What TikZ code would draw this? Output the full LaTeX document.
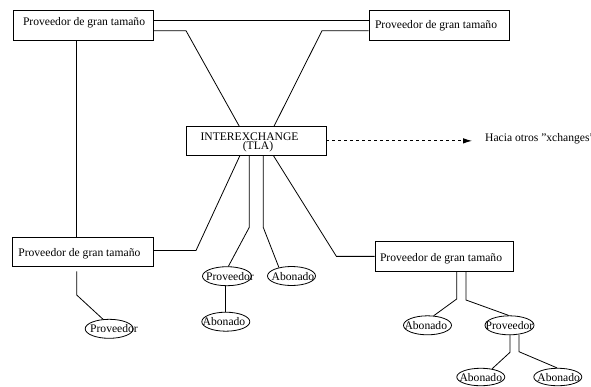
\documentclass[tikz,border=0pt]{standalone}
\usepackage{fontspec}
\setmainfont{Liberation Serif}
\usetikzlibrary{calc,shapes.geometric,arrows.meta}

% text of an oval, moved sideways by half of #1
\newcommand\ovaltext[2]{\makebox[0pt]{\hspace*{#1}#2}}
% text of a provider box: box width, left padding, text
\newcommand\boxtext[3]{\makebox[#1][l]{\hspace*{#2}#3}}

\tikzset{
  link/.style={line width=0.8pt},
  pbox/.style={draw, line width=0.8pt, inner sep=0pt, minimum height=29.3pt,
               text depth=0pt, text height=#1},
  oval/.style={ellipse, draw, line width=0.8pt, inner sep=0pt,
               minimum width=48pt, minimum height=19pt,
               text height=8pt, text depth=0pt},
  lbl/.style={inner sep=0pt, anchor=base},
}

\begin{document}
\begin{tikzpicture}[x=1pt, y=-1pt, font=\fontsize{11.6}{13}\selectfont]
\useasboundingbox (0,0) rectangle (591,386);

% large providers and the interexchange
\node[pbox=0.7pt] (tl) at (83.15,25.35) {\boxtext{140.3pt}{10pt}{Proveedor de gran tamaño}};
\node[pbox=6pt]   (tr) at (439.15,25.35) {\boxtext{140.3pt}{6pt}{Proveedor de gran tamaño}};
\node[pbox=9pt, minimum height=29pt] (bl) at (83,252.2) {\boxtext{140.6pt}{5.6pt}{Proveedor de gran tamaño}};
\node[pbox=9.4pt] (br) at (444.15,256.35) {\boxtext{138.3pt}{5pt}{Proveedor de gran tamaño}};

\node[draw, line width=0.8pt, inner sep=0pt, minimum width=140pt, minimum height=28.3pt] (ix) at (256,140.85) {};
\node[lbl] (ixa) at (249.5,140.7) {INTEREXCHANGE};
\node[lbl] (ixb) at (258,149.5) {(TLA)};

% small providers and subscribers
\node[oval] (p1) at (109.2,328.8) {\ovaltext{9.6pt}{Proveedor}};
\node[oval, minimum width=49pt] (p2) at (227,276.2) {\ovaltext{6pt}{Proveedor}};
\node[oval] (a1) at (225.8,321.7) {\ovaltext{-3.6pt}{Abonado}};
\node[oval] (a2) at (291.5,276) {\ovaltext{3pt}{Abonado}};
\node[oval] (a3) at (427.5,325.3) {\ovaltext{-3.4pt}{Abonado}};
\node[oval, minimum width=49pt] (p3) at (509.5,325.3) {\ovaltext{0pt}{Proveedor}};
\node[oval, minimum height=17.5pt] (a4) at (480.8,377) {\ovaltext{0pt}{Abonado}};
\node[oval, minimum height=17.5pt] (a5) at (557.8,377) {\ovaltext{1.8pt}{Abonado}};

% other exchanges
\coordinate (xend) at (472,140.85);
\node[lbl, anchor=base west] (hacia) at (485,141) {Hacia otros "xchanges"};

% links between the large providers
\draw[link] ($(tl.east)+(0,-4.65)$) -- ($(tr.west)+(0,-4.65)$);
\draw[link] ($(tl.south)+(-6.45,0)$) -- ($(bl.north)+(-6.3,0)$);

% links into the interexchange
\draw[link] ($(tl.east)+(0,5.35)$) -- (186,30.7) -- ($(ix.north)+(-16.7,0)$);
\draw[link] ($(tr.west)+(0,5.35)$) -- (322,30.7) -- ($(ix.north)+(18,0)$);
\draw[link] ($(ix.south)+(-16,0)$) -- (196,250.5) -- ($(bl.east)+(0,-1.7)$);
\draw[link] ($(ix.south)+(-6.7,0)$) -- (249.3,227.3) -- (p2.82);
\draw[link] ($(ix.south)+(7.3,0)$) -- (263.3,227.5) -- (a2.146);
\draw[link] ($(ix.south)+(17.3,0)$) -- (336.4,256.35) -- (br.west);
\draw[link, dash pattern=on 3pt off 3pt, -{Latex[length=9pt,width=5.5pt]}] (ix.east) -- (xend);

% links below the providers
\draw[link] ($(bl.south)+(-6.3,4.3)$) -- (76.7,295) -- (p1.123);
\draw[link] (a1.north) -- (a1.north |- p2.south);
\draw[link] ($(br.south)+(12.55,0)$) -- (456.7,299) -- (a3.57);
\draw[link] ($(br.south)+(21.8,0)$) -- (466,300) -- (p3.95);
\draw[link] ($(p3.south)+(0.5,0)$) -- (510,352.3) -- (a4.36);
\draw[link] ($(p3.south)+(9.5,0)$) -- (519,351.7) -- (a5.95);
\end{tikzpicture}
\end{document}
